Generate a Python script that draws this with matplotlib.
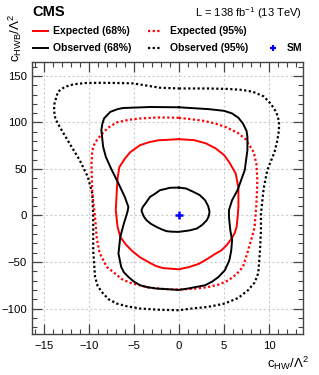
import matplotlib
matplotlib.use('Agg')
import matplotlib.pyplot as plt
from matplotlib.lines import Line2D
from matplotlib.ticker import MultipleLocator

plt.rcParams['font.family'] = ['Liberation Sans', 'DejaVu Sans']
plt.rcParams['mathtext.fontset'] = 'custom'
plt.rcParams['mathtext.rm'] = 'Liberation Sans'
plt.rcParams['mathtext.it'] = 'Liberation Sans:italic'
plt.rcParams['mathtext.bf'] = 'Liberation Sans:bold'

# --- contour data ---
obs95_x = [0.0, 3.3, 5.4, 7.0, 8.2, 9.4, 10.2, 10.8, 11.1, 11.1, 10.9, 10.6, 9.8, 9.4, 9.1, 9.1, 9.0,
           8.8, 8.4, 7.7, 6.6, 5.1, 3.2, 1.4, 0.0, -2.2, -4.3, -5.8, -6.9, -7.8, -8.4, -9.0, -9.3,
           -9.5, -9.5, -9.6, -10.1, -11.0, -12.1, -13.2, -13.7, -13.85, -13.8, -13.6, -13.4, -12.7,
           -11.7, -10.3, -8.8, -6.9, -5.1, -3.5, -2.1, 0.0]
obs95_y = [136.5, 136.5, 136.0, 135.0, 133.0, 128.0, 120.0, 111.0, 101.5, 91.7, 80.0, 68.0, 48.7, 29.0,
           2.0, -15.0, -37.0, -62.0, -72.0, -80.0, -88.5, -94.6, -98.3, -100.0, -101.8, -101.3, -100.0,
           -97.5, -94.6, -90.0, -83.9, -76.0, -66.0, -37.3, -1.5, 23.7, 41.5, 59.5, 77.0, 95.0, 104.0,
           113.0, 120.0, 127.0, 133.0, 138.0, 141.0, 142.4, 142.6, 142.4, 142.0, 139.5, 137.3, 136.5]

obs68_x = [0.0, 3.3, 5.0, 5.9, 6.6, 7.1, 7.5, 7.6, 7.6, 7.3, 6.5, 5.9, 5.55, 5.55, 5.7, 5.9, 5.8, 5.6,
           5.1, 4.4, 3.7, 2.9, 1.0, 0.0, -2.5, -3.5, -4.3, -5.0, -5.6, -6.1, -6.4, -6.7, -6.5, -6.1,
           -5.7, -5.6, -6.0, -6.7, -7.5, -8.1, -8.4, -8.6, -8.5, -8.3, -7.6, -6.8, -6.2, -3.2, 0.0]
obs68_y = [116.3, 114.3, 112.5, 109.7, 105.0, 98.9, 91.0, 84.5, 70.2, 48.7, 27.2, 16.5, 5.7, -1.5, -15.8,
           -26.6, -38.0, -48.0, -58.8, -66.0, -71.0, -75.0, -78.5, -80.0, -78.5, -77.0, -75.0, -71.0,
           -66.0, -61.0, -55.3, -40.9, -23.0, -8.6, 4.0, 9.2, 20.0, 34.4, 50.0, 63.0, 73.8, 91.7, 98.0,
           104.3, 111.4, 114.3, 115.5, 116.6, 116.3]

obs68in_x = [0.0, 0.8, 1.6, 2.3, 2.9, 3.25, 3.4, 3.3, 3.1, 2.6, 2.0, 1.2, 0.0, -0.8, -1.4, -2.0, -2.5,
             -3.1, -3.6, -3.9, -4.1, -4.15, -4.0, -3.7, -3.2, -2.7, -2.1, -1.5, -1.0, 0.0]
obs68in_y = [30.0, 29.0, 25.4, 22.0, 16.5, 10.0, 3.9, -1.0, -5.0, -10.0, -14.0, -16.0, -17.6, -17.4,
             -16.8, -14.5, -12.2, -9.0, -5.0, -1.0, 3.9, 5.5, 9.2, 13.0, 20.0, 23.0, 27.2, 28.5, 29.8, 30.0]

exp68_x = [0.0, 1.7, 3.0, 4.1, 5.0, 5.6, 6.3, 6.6, 6.6, 6.5, 6.4, 6.2, 5.9, 5.3, 4.7, 3.9, 3.1, 2.2,
           1.1, 0.0, -1.7, -2.5, -3.2, -4.3, -5.2, -5.9, -6.5, -6.8, -7.0, -6.9, -6.8, -6.6, -6.0,
           -5.4, -4.3, -3.3, -2.3, 0.0]
exp68_y = [82.0, 81.0, 77.5, 72.0, 65.0, 57.0, 45.0, 30.0, 9.2, -3.0, -12.2, -18.5, -24.0, -32.0, -37.5,
           -42.0, -47.0, -52.0, -55.5, -57.8, -56.6, -54.5, -51.0, -45.0, -38.0, -31.0, -23.0, -12.2,
           5.7, 23.7, 40.0, 52.0, 61.0, 68.0, 75.6, 78.8, 80.8, 82.0]

exp95_x = [0.0, 2.6, 4.0, 5.2, 6.5, 7.4, 8.3, 8.6, 8.7, 8.6, 8.4, 8.2, 7.6, 7.1, 6.4, 5.5, 4.5, 3.2,
           1.6, 0.0, -1.7, -3.4, -5.5, -6.4, -7.0, -8.0, -8.8, -9.1, -9.3, -9.6, -9.7, -9.6, -9.4,
           -9.1, -8.6, -7.9, -6.9, -5.6, -4.3, -2.1, 0.0]
exp95_y = [105.0, 102.0, 99.0, 95.0, 89.0, 82.0, 68.0, 55.0, 38.0, 12.9, -12.2, -20.0, -40.0, -55.3,
           -63.0, -69.6, -74.0, -77.0, -78.8, -79.6, -79.0, -77.5, -72.0, -68.0, -63.0, -55.3, -40.0,
           -25.0, -1.5, 23.7, 55.0, 70.0, 76.0, 81.0, 87.0, 94.0, 100.0, 102.8, 104.3, 105.4, 105.0]

sm_x = [0.0]
sm_y = [0.0]

# --- figure ---
fig = plt.figure(figsize=(3.19, 3.75), dpi=100)
ax = fig.add_axes([0.100, 0.109, 0.8495, 0.727])

dot = (0, (1, 1.1))
ax.plot(obs95_x, obs95_y, color='black', lw=1.6, linestyle=dot, zorder=3)
ax.plot(exp95_x, exp95_y, color='red', lw=1.6, linestyle=dot, zorder=3)
ax.plot(exp68_x, exp68_y, color='red', lw=1.4, zorder=4)
ax.plot(obs68_x, obs68_y, color='black', lw=1.4, zorder=5)
ax.plot(obs68in_x, obs68in_y, color='black', lw=1.4, zorder=5)
ax.plot(sm_x, sm_y, marker='+', color='#0000ff', markersize=6, mew=1.8, linestyle='none', zorder=6)

ax.set_xlim(-16.3, 13.75)
ax.set_ylim(-127.5, 165.5)
ax.xaxis.set_major_locator(MultipleLocator(5))
ax.xaxis.set_minor_locator(MultipleLocator(1))
ax.yaxis.set_major_locator(MultipleLocator(50))
ax.yaxis.set_minor_locator(MultipleLocator(10))
ax.tick_params(which='both', direction='in', top=True, right=True, colors='#444444',
               labelcolor='black', labelsize=8.2)
ax.tick_params(which='major', length=7, width=0.9)
ax.tick_params(which='minor', length=3.5, width=0.8)
ax.tick_params(axis='x', pad=5)
ax.tick_params(axis='y', pad=3.5)
for s in ax.spines.values():
    s.set_color('#444444')
    s.set_linewidth(1.0)
ax.grid(which='major', color='#cccccc', linestyle=(0, (2, 2)), linewidth=0.8)
ax.set_axisbelow(True)

# --- texts ---
fig.text(0.100, 0.967, 'CMS', fontsize=10.5, fontweight='bold', ha='left', va='center')
fig.text(0.947, 0.965, r'L = 138 fb$^{-1}$ (13 TeV)', fontsize=8, ha='right', va='center')
fig.text(0.968, 0.032, r'$\mathrm{c}_{\mathrm{HW}}/\Lambda^{2}$', fontsize=9.5, ha='right', va='center')
fig.text(0.048, 0.835, r'$\mathrm{c}_{\mathrm{HWB}}/\Lambda^{2}$', fontsize=9.5, rotation=90,
         ha='center', va='bottom')

# --- legend (manual, above the frame) ---
row1, row2 = 0.917, 0.872
fig.add_artist(Line2D([0.103, 0.150], [row1, row1], color='red', lw=1.4, transform=fig.transFigure))
fig.text(0.166, row1, 'Expected (68%)', fontsize=7.5, fontweight='bold', va='center')
fig.add_artist(Line2D([0.464, 0.508], [row1, row1], color='red', lw=1.6, linestyle=dot,
                      transform=fig.transFigure))
fig.text(0.533, row1, 'Expected (95%)', fontsize=7.5, fontweight='bold', va='center')
fig.add_artist(Line2D([0.103, 0.150], [row2, row2], color='black', lw=1.4, transform=fig.transFigure))
fig.text(0.166, row2, 'Observed (68%)', fontsize=7.5, fontweight='bold', va='center')
fig.add_artist(Line2D([0.464, 0.508], [row2, row2], color='black', lw=1.6, linestyle=dot,
                      transform=fig.transFigure))
fig.text(0.533, row2, 'Observed (95%)', fontsize=7.5, fontweight='bold', va='center')
fig.add_artist(Line2D([0.856], [row2], marker='+', color='#0000ff', markersize=5, mew=1.6,
                      linestyle='none', transform=fig.transFigure))
fig.text(0.900, row2, 'SM', fontsize=7.5, fontweight='bold', va='center')

fig.savefig('out.png', dpi=100)
